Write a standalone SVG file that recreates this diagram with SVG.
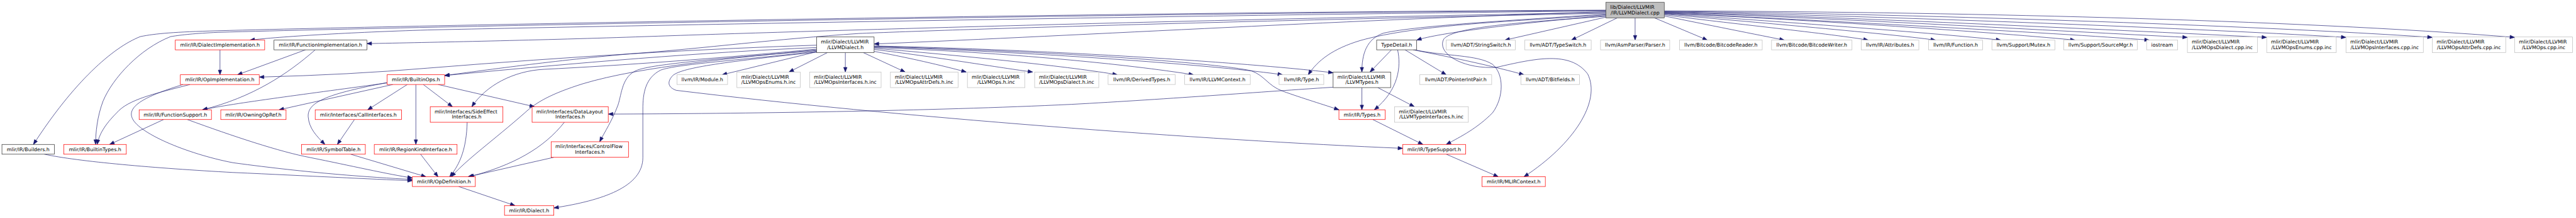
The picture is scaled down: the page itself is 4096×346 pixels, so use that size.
<svg xmlns="http://www.w3.org/2000/svg" width="4096" height="346" viewBox="0 0 4096 346">
<style>
.node rect{fill:#fff;stroke-width:1.2}
.k rect{stroke:#333}
.r rect{stroke:#f00}
.g rect{stroke:#bfbfbf}
.root rect{fill:#bfbfbf;stroke:#404040}
text{font-family:"DejaVu Sans","Liberation Sans",sans-serif;font-size:12.8px;fill:#000}
.m{text-anchor:middle}
#edges path{fill:none;stroke:#191970;stroke-width:1.1;marker-end:url(#a)}
</style>
<defs>
<marker id="a" markerUnits="userSpaceOnUse" markerWidth="13" markerHeight="10" refX="12" refY="4.5" orient="auto" overflow="visible">
<path d="M0,0 L12,4.5 L0,9 z" fill="#191970" stroke="#191970" stroke-width="1"/>
</marker>
</defs>
<rect x="0" y="0" width="4096" height="346" fill="#fff"/>
<g transform="scale(0.618)">
<g id="edges">
<!-- root right -->
<path d="M4132,30 C3500,50 2800,90 2249,113"/>
<path d="M4132,28 C3000,40 1500,68 1100,77 C900,83 720,94 643,103"/>
<path d="M4132,32 C3000,52 2000,82 1660,94 C1400,103 1100,109 944,112"/>
<path d="M4132,26 C3000,30 1200,62 560,79 C450,82 400,86 361,94 C290,122 190,210 86,371"/>
<path d="M4132,27 C3000,33 1200,65 560,83 C500,86 470,89 439,94 C360,125 290,200 265,260 C250,300 246,340 246,371"/>
<path d="M4132,34 C3000,58 2400,78 2210,86 C2000,100 1800,125 1650,136 C1450,152 1250,180 1144,194"/>
<path d="M4132,40 C3900,60 3700,85 3645,103"/>
<path d="M4132,44 L3872,103"/>
<path d="M4161,46 L4043,103"/>
<path d="M4207,46 L4207,103"/>
<path d="M4257,46 L4393,103"/>
<path d="M4282,41 C4350,55 4500,85 4591,103"/>
<path d="M4282,38 C4400,55 4700,85 4807,103"/>
<path d="M4282,36 C4450,52 4850,85 4980,103"/>
<path d="M4282,35 C4500,50 4950,82 5148,103"/>
<path d="M4282,34 C4600,48 5100,80 5339,103"/>
<path d="M4282,33 C4600,48 5300,85 5530,103"/>
<path d="M4282,32 C4700,45 5300,80 5628,96"/>
<path d="M4282,31 C4700,42 5400,75 5832,96"/>
<path d="M4282,30 C4800,40 5600,70 6036,96"/>
<path d="M4282,29 C4900,35 5800,65 6258,96"/>
<path d="M4282,28 C5000,30 5900,50 6470,96"/>
<path d="M4132,36 C3900,52 3650,65 3560,85 C3515,100 3504,140 3504,185"/>
<path d="M4132,38 C3900,55 3650,62 3500,104 C3430,125 3390,155 3366,192"/>
<path d="M4132,42 C3900,58 3740,70 3715,100 C3695,135 3760,178 3850,173 C3950,150 4040,130 4085,190 C4120,260 4050,370 3921,454"/>
<!-- LLVMDialect.h -->
<path d="M2221,135 L2329,185"/>
<path d="M2249,132 C2350,150 2450,175 2486,185"/>
<path d="M2249,127 C2400,145 2580,175 2657,185"/>
<path d="M2249,124 C2500,145 2760,172 2875,192"/>
<path d="M2249,122 C2600,135 2900,165 3071,192"/>
<path d="M2249,120 C2700,135 3150,170 3300,192"/>
<path d="M2249,118 C2800,130 3300,170 3430,187"/>
<path d="M2249,119 C2800,135 3150,165 3220,182 C3255,195 3262,220 3300,234 C3350,252 3410,270 3445,282"/>
<path d="M2101,133 L1858,192"/>
<path d="M2129,135 L2030,185"/>
<path d="M2175,135 L2175,185"/>
<path d="M2101,116 Q1660,130 1100,175 Q900,192 667,198"/>
<path d="M2101,122 C1800,135 1500,160 1144,194"/>
<path d="M2101,126 C1850,150 1600,168 1400,178 C1320,182 1250,220 1214,274"/>
<path d="M2101,128 C1900,148 1650,170 1500,215 C1420,240 1380,262 1350,290 C1270,360 1200,410 1161,454"/>
<path d="M2101,130 C1850,150 1680,165 1640,180 C1600,195 1600,240 1590,270 C1575,310 1555,340 1543,364"/>
<path d="M2101,132 C1900,155 1740,165 1700,180 C1660,200 1654,240 1654,280 L1654,405 C1654,480 1550,515 1425,534"/>
<path d="M2101,134 C1850,160 1750,175 1730,195 C1715,212 1720,225 1740,232 C2300,300 3100,360 3609,381"/>
<!-- LLVMTypes.h -->
<path d="M3504,225 L3504,282"/>
<path d="M3545,225 L3639,274"/>
<path d="M3430,224 C3300,232 3000,255 2757,268 C2400,285 1900,292 1565,293"/>
<!-- TypeDetail.h -->
<path d="M3580,128 L3525,185"/>
<path d="M3596,128 C3605,170 3600,230 3536,282"/>
<path d="M3615,128 L3721,192"/>
<path d="M3636,128 C3750,150 3850,172 3921,192"/>
<path d="M3640,128 C3720,145 3800,140 3840,165 C3870,190 3870,250 3840,290 C3800,330 3760,350 3721,371"/>
<path d="M3532,307 L3661,371"/>
<path d="M3721,396 L3855,454"/>
<!-- left cluster -->
<path d="M566,128 L566,192"/>
<path d="M786,128 L611,192"/>
<path d="M811,128 C740,190 650,250 521,282"/>
<path d="M996,213 C800,240 600,265 521,282"/>
<path d="M1011,217 L718,282"/>
<path d="M996,212 C850,240 790,260 793,300 C795,330 815,350 836,371"/>
<path d="M1048,217 L946,282"/>
<path d="M1070,217 L1070,371"/>
<path d="M1089,217 L1164,274"/>
<path d="M1127,217 L1375,274"/>
<path d="M912,307 L868,371"/>
<path d="M902,396 L1096,454"/>
<path d="M1082,396 L1127,454"/>
<path d="M1202,314 C1200,380 1185,420 1157,454"/>
<path d="M1452,314 C1400,380 1320,425 1207,454"/>
<path d="M1425,404 L1204,454"/>
<path d="M1180,479 L1325,528"/>
<path d="M421,307 L282,371"/>
<path d="M482,307 C600,350 720,390 800,405 C900,425 1000,448 1061,457"/>
<path d="M489,217 C400,240 330,255 300,290 C270,320 255,345 250,371"/>
<path d="M471,217 C380,245 330,270 339,300 C350,340 480,395 600,418 C800,445 950,455 1061,461"/>
<path d="M114,396 C200,415 400,432 600,443 C800,452 950,460 1061,464"/>
</g>
<g id="root" class="node root"><rect x="4132" y="6" width="150" height="40"/><text x="4143" y="22.5">lib/Dialect/LLVMIR</text><text class="m" x="4207" y="37">/IR/LLVMDialect.cpp</text></g>
<g id="n_dialimpl" class="node r"><rect x="451" y="103" width="230" height="25"/><text class="m" x="566" y="120">mlir/IR/DialectImplementation.h</text></g>
<g id="n_funcimpl" class="node k"><rect x="705" y="103" width="239" height="25"/><text class="m" x="824.5" y="120">mlir/IR/FunctionImplementation.h</text></g>
<g id="n_llvmdialh" class="node k"><rect x="2101" y="95" width="148" height="40"/><text x="2112" y="111.5">mlir/Dialect/LLVMIR</text><text class="m" x="2175" y="126">/LLVMDialect.h</text></g>
<g id="n_typedetail" class="node k"><rect x="3542" y="103" width="103" height="25"/><text class="m" x="3593.5" y="120">TypeDetail.h</text></g>
<g id="n_stringswitch" class="node g"><rect x="3721" y="103" width="178" height="25"/><text class="m" x="3810" y="120">llvm/ADT/StringSwitch.h</text></g>
<g id="n_typeswitch" class="node g"><rect x="3923" y="103" width="171" height="25"/><text class="m" x="4008.5" y="120">llvm/ADT/TypeSwitch.h</text></g>
<g id="n_parser" class="node g"><rect x="4118" y="103" width="178" height="25"/><text class="m" x="4207" y="120">llvm/AsmParser/Parser.h</text></g>
<g id="n_bcreader" class="node g"><rect x="4321" y="103" width="213" height="25"/><text class="m" x="4427.5" y="120">llvm/Bitcode/BitcodeReader.h</text></g>
<g id="n_bcwriter" class="node g"><rect x="4558" y="103" width="207" height="25"/><text class="m" x="4661.5" y="120">llvm/Bitcode/BitcodeWriter.h</text></g>
<g id="n_attrs" class="node g"><rect x="4789" y="103" width="148" height="25"/><text class="m" x="4863" y="120">llvm/IR/Attributes.h</text></g>
<g id="n_function" class="node g"><rect x="4962" y="103" width="139" height="25"/><text class="m" x="5031.5" y="120">llvm/IR/Function.h</text></g>
<g id="n_mutex" class="node g"><rect x="5125" y="103" width="162" height="25"/><text class="m" x="5206" y="120">llvm/Support/Mutex.h</text></g>
<g id="n_srcmgr" class="node g"><rect x="5310" y="103" width="189" height="25"/><text class="m" x="5404.5" y="120">llvm/Support/SourceMgr.h</text></g>
<g id="n_iostream" class="node g"><rect x="5523" y="103" width="80" height="25"/><text class="m" x="5563" y="120">iostream</text></g>
<g id="n_dialcpp" class="node g"><rect x="5628" y="95" width="180" height="40"/><text x="5639" y="111.5">mlir/Dialect/LLVMIR</text><text class="m" x="5718" y="126">/LLVMOpsDialect.cpp.inc</text></g>
<g id="n_enumscpp" class="node g"><rect x="5832" y="95" width="179" height="40"/><text x="5843" y="111.5">mlir/Dialect/LLVMIR</text><text class="m" x="5921.5" y="126">/LLVMOpsEnums.cpp.inc</text></g>
<g id="n_ifacecpp" class="node g"><rect x="6036" y="95" width="199" height="40"/><text x="6047" y="111.5">mlir/Dialect/LLVMIR</text><text class="m" x="6135.5" y="126">/LLVMOpsInterfaces.cpp.inc</text></g>
<g id="n_attrcpp" class="node g"><rect x="6258" y="95" width="189" height="40"/><text x="6269" y="111.5">mlir/Dialect/LLVMIR</text><text class="m" x="6352.5" y="126">/LLVMOpsAttrDefs.cpp.inc</text></g>
<g id="n_opscpp" class="node g"><rect x="6470" y="95" width="149" height="40"/><text x="6481" y="111.5">mlir/Dialect/LLVMIR</text><text class="m" x="6544.5" y="126">/LLVMOps.cpp.inc</text></g>
<g id="n_opimpl" class="node r"><rect x="464" y="192" width="203" height="25"/><text class="m" x="565.5" y="209">mlir/IR/OpImplementation.h</text></g>
<g id="n_builtinops" class="node r"><rect x="996" y="192" width="148" height="25"/><text class="m" x="1070" y="209">mlir/IR/BuiltinOps.h</text></g>
<g id="n_module" class="node g"><rect x="1742" y="192" width="130" height="25"/><text class="m" x="1807" y="209">llvm/IR/Module.h</text></g>
<g id="n_enumsh" class="node g"><rect x="1896" y="185" width="163" height="40"/><text x="1907" y="201.5">mlir/Dialect/LLVMIR</text><text class="m" x="1977.5" y="216">/LLVMOpsEnums.h.inc</text></g>
<g id="n_ifaceh" class="node g"><rect x="2083" y="185" width="184" height="40"/><text x="2094" y="201.5">mlir/Dialect/LLVMIR</text><text class="m" x="2175" y="216">/LLVMOpsInterfaces.h.inc</text></g>
<g id="n_attrh" class="node g"><rect x="2291" y="185" width="174" height="40"/><text x="2302" y="201.5">mlir/Dialect/LLVMIR</text><text class="m" x="2378" y="216">/LLVMOpsAttrDefs.h.inc</text></g>
<g id="n_opsh" class="node g"><rect x="2489" y="185" width="148" height="40"/><text x="2500" y="201.5">mlir/Dialect/LLVMIR</text><text class="m" x="2563" y="216">/LLVMOps.h.inc</text></g>
<g id="n_dialh" class="node g"><rect x="2662" y="185" width="165" height="40"/><text x="2673" y="201.5">mlir/Dialect/LLVMIR</text><text class="m" x="2744.5" y="216">/LLVMOpsDialect.h.inc</text></g>
<g id="n_derived" class="node g"><rect x="2851" y="192" width="173" height="25"/><text class="m" x="2937.5" y="209">llvm/IR/DerivedTypes.h</text></g>
<g id="n_llvmctx" class="node g"><rect x="3048" y="192" width="169" height="25"/><text class="m" x="3132.5" y="209">llvm/IR/LLVMContext.h</text></g>
<g id="n_type" class="node g"><rect x="3291" y="192" width="115" height="25"/><text class="m" x="3348.5" y="209">llvm/IR/Type.h</text></g>
<g id="n_llvmtypes" class="node k"><rect x="3430" y="185" width="148" height="40"/><text x="3441" y="201.5">mlir/Dialect/LLVMIR</text><text class="m" x="3504" y="216">/LLVMTypes.h</text></g>
<g id="n_pip" class="node g"><rect x="3653" y="192" width="185" height="25"/><text class="m" x="3745.5" y="209">llvm/ADT/PointerIntPair.h</text></g>
<g id="n_bitfields" class="node g"><rect x="3913" y="192" width="151" height="25"/><text class="m" x="3988.5" y="209">llvm/ADT/Bitfields.h</text></g>
<g id="n_funcsupport" class="node r"><rect x="358" y="282" width="186" height="25"/><text class="m" x="451" y="299">mlir/IR/FunctionSupport.h</text></g>
<g id="n_owning" class="node r"><rect x="568" y="282" width="168" height="25"/><text class="m" x="652" y="299">mlir/IR/OwningOpRef.h</text></g>
<g id="n_callif" class="node r"><rect x="811" y="282" width="222" height="25"/><text class="m" x="922" y="299">mlir/Interfaces/CallInterfaces.h</text></g>
<g id="n_sideeffect" class="node r"><rect x="1107" y="274" width="187" height="40"/><text x="1118" y="290.5">mlir/Interfaces/SideEffect</text><text class="m" x="1200.5" y="305">Interfaces.h</text></g>
<g id="n_datalayout" class="node r"><rect x="1369" y="274" width="196" height="40"/><text x="1380" y="290.5">mlir/Interfaces/DataLayout</text><text class="m" x="1467" y="305">Interfaces.h</text></g>
<g id="n_types" class="node r"><rect x="3445" y="282" width="119" height="25"/><text class="m" x="3504.5" y="299">mlir/IR/Types.h</text></g>
<g id="n_typeiface" class="node g"><rect x="3588" y="274" width="190" height="40"/><text x="3599" y="290.5">mlir/Dialect/LLVMIR</text><text class="m" x="3683" y="305">/LLVMTypeInterfaces.h.inc</text></g>
<g id="n_builders" class="node k"><rect x="5" y="371" width="135" height="25"/><text class="m" x="72.5" y="388">mlir/IR/Builders.h</text></g>
<g id="n_builtintypes" class="node r"><rect x="164" y="371" width="161" height="25"/><text class="m" x="244.5" y="388">mlir/IR/BuiltinTypes.h</text></g>
<g id="n_symtab" class="node r"><rect x="776" y="371" width="164" height="25"/><text class="m" x="858" y="388">mlir/IR/SymbolTable.h</text></g>
<g id="n_regionkind" class="node r"><rect x="963" y="371" width="213" height="25"/><text class="m" x="1069.5" y="388">mlir/IR/RegionKindInterface.h</text></g>
<g id="n_controlflow" class="node r"><rect x="1418" y="364" width="199" height="40"/><text x="1429" y="380.5">mlir/Interfaces/ControlFlow</text><text class="m" x="1517.5" y="395">Interfaces.h</text></g>
<g id="n_typesupport" class="node r"><rect x="3609" y="371" width="162" height="25"/><text class="m" x="3690" y="388">mlir/IR/TypeSupport.h</text></g>
<g id="n_opdef" class="node r"><rect x="1061" y="454" width="162" height="25"/><text class="m" x="1142" y="471">mlir/IR/OpDefinition.h</text></g>
<g id="n_mlirctx" class="node r"><rect x="3813" y="454" width="163" height="25"/><text class="m" x="3894.5" y="471">mlir/IR/MLIRContext.h</text></g>
<g id="n_dialect" class="node r"><rect x="1298" y="528" width="127" height="25"/><text class="m" x="1361.5" y="545">mlir/IR/Dialect.h</text></g>
</g>
</svg>
